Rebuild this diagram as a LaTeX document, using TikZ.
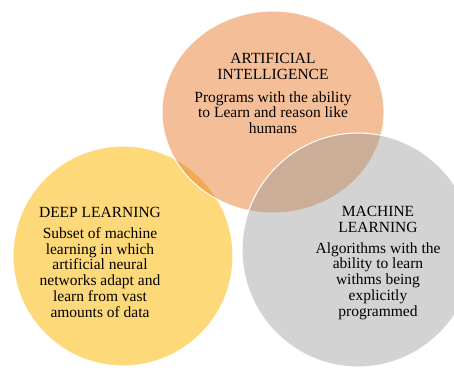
\documentclass[tikz,border=0pt]{standalone}
\usepackage{fontspec}
\setmainfont{Liberation Serif}
\usepackage{tikz}
\usetikzlibrary{shapes.geometric}

\definecolor{dlyellow}{RGB}{253,217,122}
\definecolor{aiorange}{RGB}{231,114,31}
\definecolor{mlgrey}{RGB}{153,153,153}

\begin{document}
\begin{tikzpicture}[x=1pt, y=-1pt,
  set/.style={ellipse, draw=white, line width=1pt, inner sep=0pt},
  txt/.style={align=center, inner sep=0pt, anchor=north, font=\fontsize{15.5}{15.8}\selectfont}]
  % page is 454 x 367, y grows downwards
  \useasboundingbox (0,0) rectangle (454,367);
  % the three sets, yellow first, grey on top
  \node[set, fill=dlyellow, minimum width=220pt, minimum height=220pt] (dl) at (123,256) {};
  \node[set, fill=aiorange, fill opacity=0.46, minimum width=222pt, minimum height=202pt] (ai) at (273,112) {};
  \node[set, fill=mlgrey, fill opacity=0.43, minimum width=232pt, minimum height=234pt] (ml) at (358,250) {};
  % labels
  \node[txt] (aitxt) at (273,53) {ARTIFICIAL\\INTELLIGENCE\\[7pt]Programs with the ability\\to Learn and reason like\\humans};
  \node[txt] (dltxt) at (100,207) {DEEP LEARNING\\[5pt]Subset of machine\\learning in which\\artificial neural\\networks adapt and\\learn from vast\\amounts of data};
  \node[txt] (mltxt) at (378,206) {MACHINE\\LEARNING\\[5pt]Algorithms with the\\ability to learn\\withms being\\explicitly\\programmed};
\end{tikzpicture}
\end{document}
